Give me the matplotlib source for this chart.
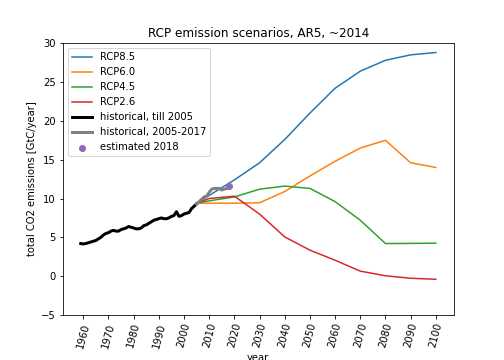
import numpy as np
import matplotlib
matplotlib.use('Agg')
import matplotlib.pyplot as plt

# RCP scenarios (GtC/year)
rcp_years = [2005, 2010, 2020, 2030, 2040, 2050, 2060, 2070, 2080, 2090, 2100]
rcp85 = [9.4, 10.4, 12.4, 14.6, 17.6, 21.0, 24.2, 26.4, 27.8, 28.5, 28.8]
rcp60 = [9.4, 9.4, 9.4, 9.45, 10.9, 12.9, 14.8, 16.5, 17.5, 14.6, 14.0]
rcp45 = [9.4, 9.7, 10.2, 11.2, 11.6, 11.3, 9.6, 7.2, 4.2, 4.22, 4.25]
rcp26 = [9.4, 10.0, 10.3, 8.0, 5.05, 3.35, 2.05, 0.65, 0.05, -0.27, -0.4]

# historical emissions
hist_years = list(range(1959, 2006))
hist = [4.2, 4.15, 4.2, 4.3, 4.4, 4.5, 4.6, 4.8, 5.0, 5.3, 5.5, 5.6, 5.8, 5.9,
        5.8, 5.8, 6.0, 6.1, 6.2, 6.4, 6.3, 6.2, 6.1, 6.1, 6.2, 6.5, 6.6, 6.8,
        7.0, 7.2, 7.3, 7.4, 7.5, 7.4, 7.4, 7.5, 7.7, 7.8, 8.3, 7.7, 7.8, 8.0,
        8.1, 8.2, 8.7, 9.0, 9.3]
recent_years = list(range(2005, 2018))
recent = [9.3, 9.6, 9.9, 10.2, 10.3, 10.8, 11.2, 11.3, 11.3, 11.3, 11.1, 11.2, 11.3]
est_year = [2018]
est_value = [11.6]

fig, ax = plt.subplots(figsize=(7, 5), dpi=72)
plt.subplots_adjust(left=0.125, right=0.9, bottom=0.125, top=0.88)

ax.plot(rcp_years, rcp85, label='RCP8.5')
ax.plot(rcp_years, rcp60, label='RCP6.0')
ax.plot(rcp_years, rcp45, label='RCP4.5')
ax.plot(rcp_years, rcp26, label='RCP2.6')
ax.plot(hist_years, hist, color='black', linewidth=3, label='historical, till 2005')
ax.plot(recent_years, recent, color='grey', linewidth=3, label='historical, 2005-2017')
ax.scatter(est_year, est_value, color='C4', zorder=5, label='estimated 2018')

ax.set_ylim(-5, 30)
ax.set_xticks(range(1960, 2101, 10))
plt.setp(ax.get_xticklabels(), rotation=75)
ax.set_xlabel('year')
ax.set_ylabel('total CO2 emissions [GtC/year]')
ax.set_title('RCP emission scenarios, AR5, ~2014')
ax.legend(loc='upper left')

plt.savefig('out.png')
